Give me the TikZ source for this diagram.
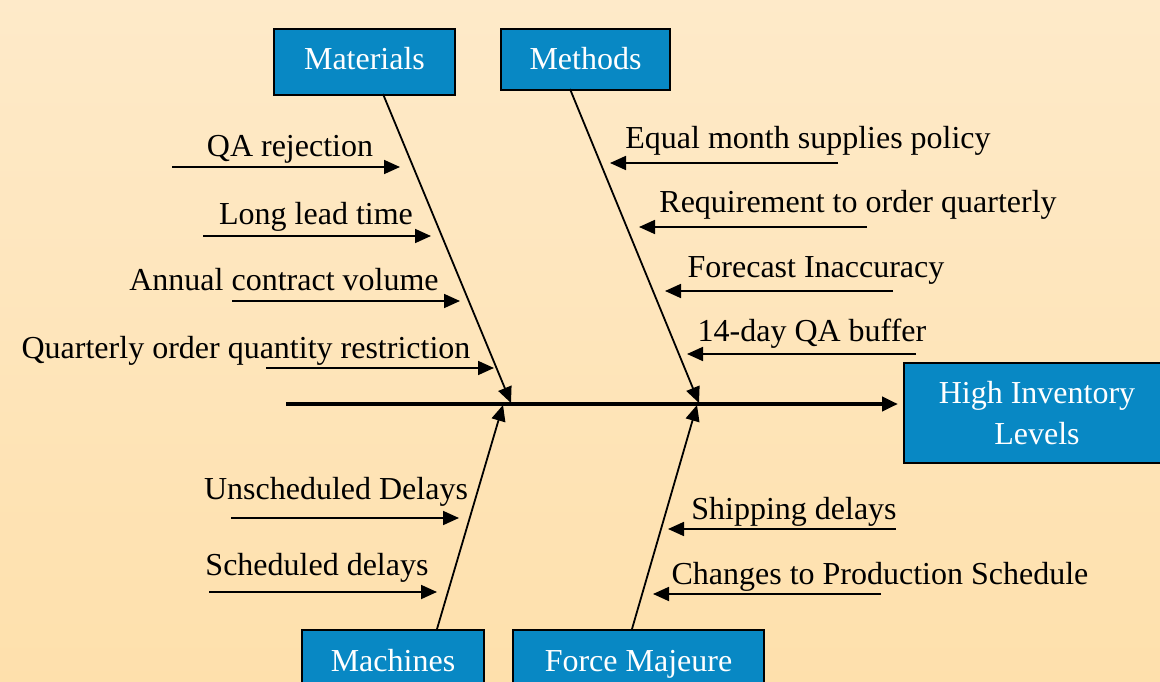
\documentclass[tikz,border=0pt]{standalone}
\usepackage{fontspec}
\setmainfont{Liberation Serif}
\usetikzlibrary{arrows.meta}
\definecolor{bgtop}{RGB}{254,234,201}
\definecolor{bgbot}{RGB}{254,224,172}
\definecolor{boxblue}{RGB}{8,136,196}
\tikzset{
  catbox/.style={draw=black, line width=2pt, fill=boxblue, text=white,
    font=\fontsize{32}{41}\selectfont, inner sep=0pt},
  cause/.style={font=\fontsize{32}{41}\selectfont, anchor=base, inner sep=0pt, text=black, yshift=-2pt},
  causearrow/.style={line width=1.8pt, -{Triangle[length=16pt,width=14pt]}},
  bone/.style={line width=1.8pt, -{Triangle[length=16pt,width=14pt]}},
  spine/.style={line width=4pt, -{Triangle[length=16pt,width=14pt]}}
}
\begin{document}
\begin{tikzpicture}[x=1pt,y=-1pt]
\useasboundingbox (0,0) rectangle (1160,682);
\clip (0,0) rectangle (1160,682);
\shade[top color=bgtop, bottom color=bgbot] (0,0) rectangle (1160,682);

% category boxes and effect
\node[catbox, anchor=north, minimum width=181pt, text height=41pt, text depth=25pt] (mat) at (364.5,28) {Materials};
\node[catbox, anchor=north, minimum width=169pt, text height=41pt, text depth=20pt] (meth) at (585.5,28) {Methods};
\node[catbox, anchor=north, minimum width=182pt, text height=41pt, text depth=40pt] (mach) at (393,629) {Machines};
\node[catbox, anchor=north, minimum width=251pt, text height=41pt, text depth=40pt] (force) at (638.5,629) {Force Majeure};
\node[catbox, minimum width=266pt, minimum height=100pt, align=center] (eff) at (1037,413) {High Inventory\\Levels};

% spine
\coordinate (sp0) at (286,404);
\draw[spine, shorten >=5pt] (sp0) -- (sp0 -| eff.west);

% bones
\coordinate (matS) at (383,94);   \coordinate (matE) at (511,403);
\coordinate (methS) at (570,89);  \coordinate (methE) at (699,403);
\coordinate (machS) at (437,629); \coordinate (machE) at (503,405);
\coordinate (forceS) at (632,629); \coordinate (forceE) at (697,405);
\draw[bone] (matS) -- (matE);
\draw[bone] (methS) -- (methE);
\draw[bone] (machS) -- (machE);
\draw[bone] (forceS) -- (forceE);

% Materials causes
\node[cause] (t1) at (290,155) {QA rejection};
\node[cause] (t2) at (316,222) {Long lead time};
\node[cause] (t3) at (284,288) {Annual contract volume};
\node[cause] (t4) at (246,356) {Quarterly order quantity restriction};
\coordinate (a1s) at (172,167); \coordinate (a1e) at (400,167);
\coordinate (a2s) at (203,236); \coordinate (a2e) at (431,236);
\coordinate (a3s) at (232,301); \coordinate (a3e) at (460,301);
\coordinate (a4s) at (266,368); \coordinate (a4e) at (494,368);
\draw[causearrow] (a1s) -- (a1e);
\draw[causearrow] (a2s) -- (a2e);
\draw[causearrow] (a3s) -- (a3e);
\draw[causearrow] (a4s) -- (a4e);

% Methods causes
\node[cause] (t5) at (808,147) {Equal month supplies policy};
\node[cause] (t6) at (858,210) {Requirement to order quarterly};
\node[cause] (t7) at (816,275) {Forecast Inaccuracy};
\node[cause] (t8) at (812,339) {14-day QA buffer};
\coordinate (a5s) at (838,163); \coordinate (a5e) at (610,163);
\coordinate (a6s) at (867,227); \coordinate (a6e) at (639,227);
\coordinate (a7s) at (893,291); \coordinate (a7e) at (665,291);
\coordinate (a8s) at (916,354); \coordinate (a8e) at (687,354);
\draw[causearrow] (a5s) -- (a5e);
\draw[causearrow] (a6s) -- (a6e);
\draw[causearrow] (a7s) -- (a7e);
\draw[causearrow] (a8s) -- (a8e);

% Machines causes
\node[cause] (t9) at (336,497) {Unscheduled Delays};
\node[cause] (t10) at (317,573) {Scheduled delays};
\coordinate (a9s) at (231,518); \coordinate (a9e) at (459,518);
\coordinate (a10s) at (209,592); \coordinate (a10e) at (437,592);
\draw[causearrow] (a9s) -- (a9e);
\draw[causearrow] (a10s) -- (a10e);

% Force Majeure causes
\node[cause] (t11) at (794,517) {Shipping delays};
\node[cause] (t12) at (880,582) {Changes to Production Schedule};
\coordinate (a11s) at (896,529); \coordinate (a11e) at (668,529);
\coordinate (a12s) at (881,594); \coordinate (a12e) at (653,594);
\draw[causearrow] (a11s) -- (a11e);
\draw[causearrow] (a12s) -- (a12e);
\end{tikzpicture}
\end{document}
